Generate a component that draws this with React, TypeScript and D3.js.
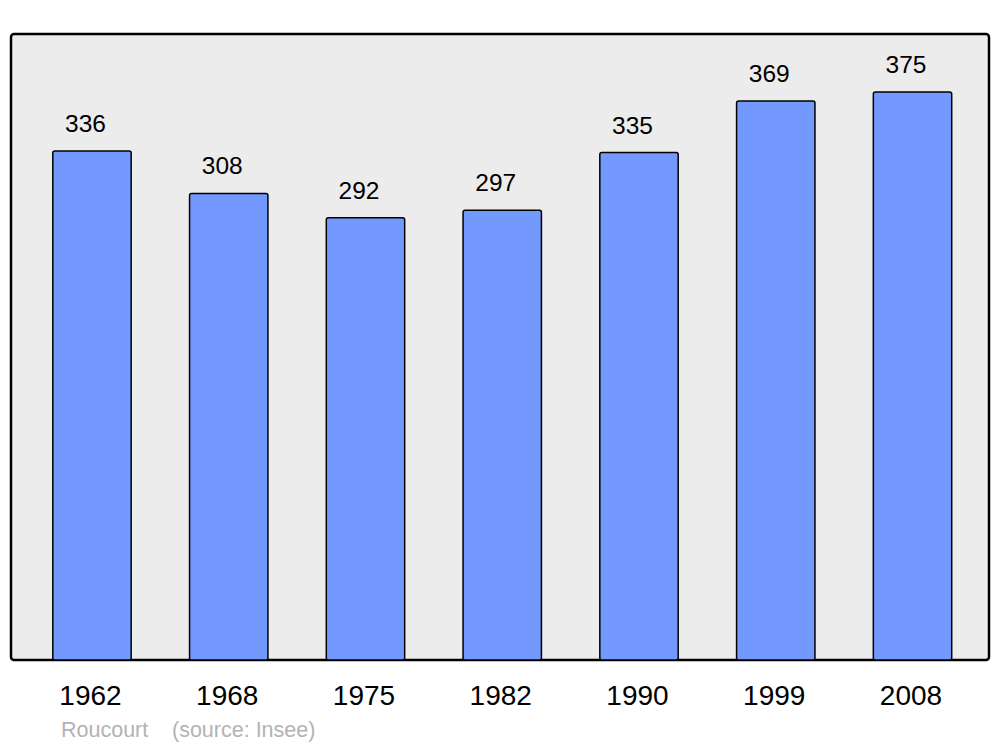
import React from "react";
import * as d3 from "d3";

const years = ["1962", "1968", "1975", "1982", "1990", "1999", "2008"];
const population = [336, 308, 292, 297, 335, 369, 375];
const footerName = "Roucourt";
const footerSource = "(source: Insee)";

export default function App() {
  const W = 1000;
  const H = 747;
  const frame = { x: 11, y: 34, w: 978, h: 626 };
  const x = d3.scaleBand<string>().domain(years).range([23.6, 980.9]);
  const y = d3.scaleLinear().domain([0, 375]).range([660, 92]);
  const barW = x.bandwidth() * 0.573;
  const font = "'Liberation Sans', Arial, sans-serif";
  return (
    <svg width={W} height={H} style={{ position: "absolute", left: 0, top: 0 }}>
      <rect x={0} y={0} width={W} height={H} fill="#ffffff" />
      <rect x={frame.x} y={frame.y} width={frame.w} height={frame.h} rx={3} ry={3}
        fill="#ececec" stroke="#000" strokeWidth={2.5} />
      {years.map((yr, i) => {
        const cx = (x(yr) as number) + x.bandwidth() / 2;
        const v = population[i];
        return (
          <g key={yr}>
            <rect x={cx - barW / 2} y={y(v)} width={barW} height={y(0) - y(v)} rx={2} ry={2}
              fill="#7399ff" stroke="#000" strokeWidth={1.5} />
            <text x={cx - 6.5} y={y(v) - 19} textAnchor="middle" fontFamily={font} fontSize={24.5} fill="#000">{v}</text>
            <text x={cx - 1.5} y={705} textAnchor="middle" fontFamily={font} fontSize={28} fill="#000">{yr}</text>
          </g>
        );
      })}
      <text x={61} y={737} fontFamily={font} fontSize={21.5} fill="#b3b3b3">{footerName}</text>
      <text x={172} y={737} fontFamily={font} fontSize={21.5} fill="#b3b3b3">{footerSource}</text>
    </svg>
  );
}
